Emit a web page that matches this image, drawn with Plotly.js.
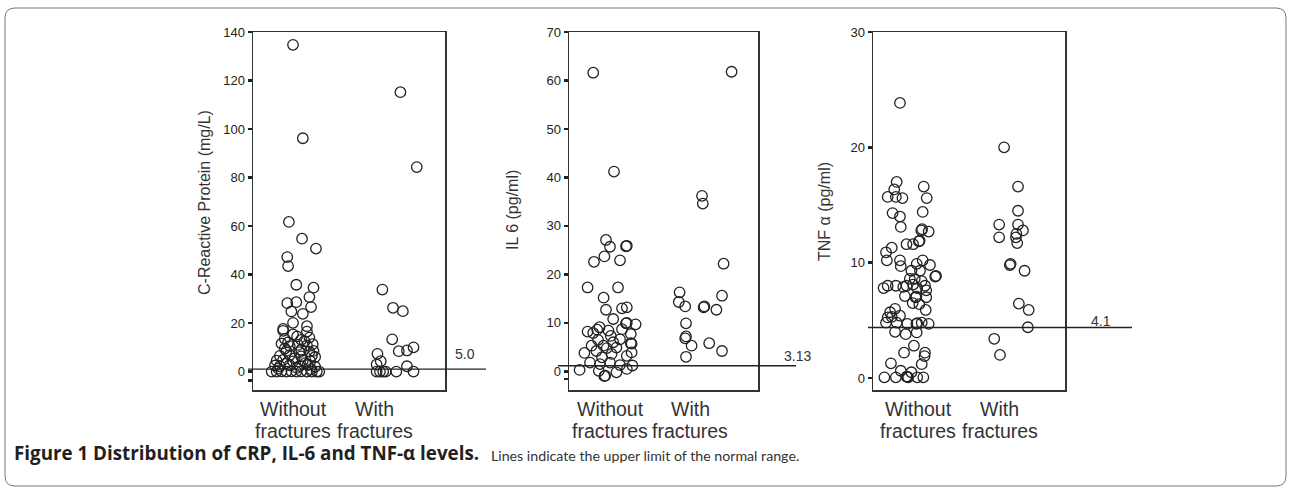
<!DOCTYPE html>
<html>
<head>
<meta charset="utf-8">
<script src="https://cdn.plot.ly/plotly-3.0.1.min.js"></script>
<style>html,body{margin:0;padding:0;background:#fff;}#chart{width:1292px;height:488px;}</style>
</head>
<body>
<div id="chart"></div>
<script>
// ---- data ----
const categoryLine1 = ['Without', 'With'];
const categoryLine2 = ['fractures', 'fractures'];
const categoryPos = [0, 1];

// CRP (mg/L)
const crpWithoutJitter = [0.00,0.12,-0.05,0.11,0.28,-0.07,-0.06,0.04,0.25,0.20,0.22,-0.07,0.04,-0.02,0.12,0.00,0.17,-0.12,0.17,-0.12,0.00,0.10,-0.10,-0.14,-0.04,0.06,0.17,0.24,-0.08,0.10,0.20,-0.16,-0.04,0.10,0.23,0.27,-0.20,-0.12,0.00,0.12,0.21,-0.22,-0.16,-0.04,0.08,0.18,0.27,-0.26,-0.20,-0.14,-0.08,-0.02,0.04,0.10,0.17,0.23,0.29,0.32,0.05,0.14,-0.06,0.20,0.08,-0.10,0.25,0.02,0.15,-0.08,0.05,0.22,-0.18];
const crpWithout = [134.7,96.2,61.7,54.8,50.7,47.2,43.5,35.8,34.6,30.7,26.6,28.2,28.6,24.8,23.8,20.1,18.7,17.6,16.5,16.8,15.3,13.1,13.5,11.5,10.5,11.0,10.8,11.3,8.5,9.0,8.2,6.5,6.8,6.3,6.5,6.0,4.5,4.8,4.2,4.6,4.3,2.5,2.2,2.6,2.3,2.7,2.0,0,0,0.1,0,0.1,0,0.1,0,0,0,0,14.5,12.5,12.0,14.0,8.0,9.5,8.5,5.5,3.5,3.5,1.5,1.0,1.2];
const crpWithJitter = [1.31,1.51,1.09,1.22,1.34,1.21,1.29,1.39,1.47,1.03,1.07,1.02,1.02,1.06,1.10,1.13,1.26,1.39,1.47];
const crpWith = [115.2,84.3,33.8,26.3,24.9,13.3,8.4,8.7,10.0,7.3,4.3,2.9,0,0,0,0,0,2.2,0];
const crpLimitDrawn = 1.0;
const crpLimitLabel = '5.0';

// IL-6 (pg/ml)
const il6WithoutJitter = [-0.21,0.05,-0.05,0.00,0.20,0.21,-0.20,-0.07,0.125,-0.28,0.10,-0.08,-0.05,0.15,0.21,0.04,0.20,0.21,0.32,-0.28,-0.13,-0.21,-0.02,-0.15,0.01,0.125,0.26,0.26,-0.32,-0.17,-0.04,0.08,0.21,0.27,-0.25,-0.38,-0.125,0.00,0.125,0.28,-0.14,-0.07,-0.06,0.08,0.21,-0.23,-0.10,0.02,-0.16,-0.08,0.04,0.15,0.27];
const il6Without = [61.6,41.2,27.1,25.7,25.8,25.9,22.6,23.7,22.9,17.3,17.3,15.2,12.7,13.0,13.2,10.8,9.9,10.0,9.7,8.2,9.1,7.9,8.4,6.5,7.3,6.6,7.7,5.8,3.8,4.2,4.8,4.9,3.2,3.9,1.8,0.3,1.5,1.8,1.3,1.2,0.1,-1.0,-0.9,-0.2,0.5,5.3,2.9,3.6,8.6,5.3,6.0,8.7,5.7];
const il6WithJitter = [1.15,1.16,1.52,1.42,0.87,0.86,0.94,1.17,1.18,1.33,1.40,0.95,0.94,0.95,1.02,1.24,1.40,0.95];
const il6With = [36.2,34.6,61.8,22.2,16.3,14.3,13.4,13.2,13.4,12.7,15.6,9.9,6.8,7.2,5.3,5.8,4.2,3.0];
const il6LimitDrawn = 1.15;
const il6LimitLabel = '3.13';

// TNF-alpha (pg/ml)
const tnfWithoutJitter = [-0.22,-0.26,-0.29,-0.37,-0.27,-0.19,0.07,0.106,-0.31,-0.22,0.057,-0.21,0.04,0.05,0.13,0.01,0.02,-0.14,-0.06,-0.32,-0.39,-0.38,-0.22,-0.21,-0.016,0.057,0.146,-0.08,0.024,0.21,0.22,-0.10,-0.04,0.045,-0.42,-0.37,-0.27,-0.18,-0.14,-0.06,-0.01,0.085,0.10,-0.16,-0.03,-0.02,0.10,-0.065,0.016,-0.28,0.094,-0.34,-0.37,-0.32,-0.22,-0.39,-0.26,-0.13,-0.02,-0.01,0.045,0.13,-0.28,-0.15,-0.016,-0.05,-0.17,0.085,0.08,-0.33,0.045,-0.21,-0.41,-0.27,-0.13,-0.12,-0.14,-0.01,0.065,-0.08];
const tnfWithout = [23.85,17.0,16.35,15.7,15.7,15.6,16.6,15.6,14.3,14.0,14.4,13.1,12.8,12.9,12.7,11.85,11.9,11.6,11.6,11.3,10.9,10.2,10.2,9.7,9.9,10.2,9.8,9.3,9.3,8.8,8.85,8.6,8.6,8.4,7.8,8.0,8.0,7.9,8.0,8.1,7.8,8.0,7.6,7.1,7.0,7.05,7.0,6.5,6.4,6.0,5.9,5.7,5.25,5.3,5.4,4.8,4.8,4.7,4.7,4.75,4.8,4.7,4.0,3.8,3.95,2.8,2.2,2.2,1.9,1.27,1.2,0.63,0.06,0.06,0.1,0.05,0.12,0.06,0.06,0.5];
const tnfWithJitter = [1.05,1.22,1.22,0.99,1.22,0.99,1.28,1.195,1.20,1.21,1.12,1.13,1.30,1.23,1.35,1.34,0.93,1.00];
const tnfWith = [20.0,16.6,14.5,13.3,13.3,12.2,12.8,12.2,12.5,11.7,9.8,9.9,9.3,6.45,5.9,4.4,3.4,2.0];
const tnfLimitDrawn = 4.38;
const tnfLimitLabel = '4.1';

const yTitles = ['C-Reactive Protein (mg/L)', 'IL 6 (pg/ml)', 'TNF \u03b1 (pg/ml)'];
const captionBold = 'Figure 1 Distribution of CRP, IL-6 and TNF-\u03b1 levels.';
const captionText = 'Lines indicate the upper limit of the normal range.';

// ---- drawing ----
const W = 1292, H = 488;
const px = v => v / W;
const py = v => 1 - v / H;

const marker = {symbol: 'circle-open', size: 10.5, color: '#222', line: {width: 1.3, color: '#222'}};
function pts(x, y, xa, ya) {
  return {type: 'scatter', mode: 'markers', x: x, y: y, xaxis: xa, yaxis: ya,
          marker: marker, cliponaxis: false, hoverinfo: 'y', showlegend: false};
}
const traces = [
  pts(crpWithoutJitter, crpWithout, 'x', 'y'), pts(crpWithJitter, crpWith, 'x', 'y'),
  pts(il6WithoutJitter, il6Without, 'x2', 'y2'), pts(il6WithJitter, il6With, 'x2', 'y2'),
  pts(tnfWithoutJitter, tnfWithout, 'x3', 'y3'), pts(tnfWithJitter, tnfWith, 'x3', 'y3')
];

const frame = {showline: true, mirror: true, linecolor: '#333', linewidth: 1.5, zeroline: false, showgrid: false};
const tickFont = {family: 'Liberation Sans, Arial, sans-serif', size: 13, color: '#222'};
const catFont = {family: 'Liberation Sans, Arial, sans-serif', size: 19.5, color: '#333'};
function xax(domain, range, ya) {
  return Object.assign({}, frame, {domain: domain, range: range, anchor: ya, tickmode: 'array', tickvals: categoryPos,
    showticklabels: false, ticks: '', fixedrange: true});
}
function yax(range, vals, texts, xa) {
  return Object.assign({}, frame, {domain: [py(390), py(32)], range: range, anchor: xa, tickmode: 'array', tickvals: vals,
    ticktext: texts, ticks: 'outside', ticklen: 4, tickwidth: 2.5, tickcolor: '#222', tickfont: tickFont, fixedrange: true});
}
const crpTicks = [-3.7, 0, 20, 40, 60, 80, 100, 120, 140];
const il6Ticks = [-1.6, 0, 10, 20, 30, 40, 50, 60, 70];
const tnfTicks = [0, 10, 20, 30];
const lbl = a => a.map(v => (v < 0 ? '' : String(v)));

const lineStyle = {color: '#222', width: 1.3};
const shapes = [
  {type: 'line', xref: 'paper', yref: 'y', x0: px(248), x1: px(486), y0: crpLimitDrawn, y1: crpLimitDrawn, line: lineStyle},
  {type: 'line', xref: 'paper', yref: 'y2', x0: px(558), x1: px(796), y0: il6LimitDrawn, y1: il6LimitDrawn, line: lineStyle},
  {type: 'line', xref: 'paper', yref: 'y3', x0: px(868), x1: px(1132), y0: tnfLimitDrawn, y1: tnfLimitDrawn, line: lineStyle},
  {type: 'path', xref: 'paper', yref: 'paper', line: {color: '#777', width: 1},
   path: `M ${px(5)} ${py(18)} Q ${px(5)} ${py(8)} ${px(15)} ${py(8)} L ${px(1276)} ${py(8)} Q ${px(1286)} ${py(8)} ${px(1286)} ${py(18)} L ${px(1286)} ${py(476)} Q ${px(1286)} ${py(486)} ${px(1276)} ${py(486)} L ${px(15)} ${py(486)} Q ${px(5)} ${py(486)} ${px(5)} ${py(476)} Z`}
];

const titleFont = {family: 'Liberation Sans, Arial, sans-serif', size: 16, color: '#333'};
const limitFont = {family: 'Liberation Sans, Arial, sans-serif', size: 14, color: '#333'};
const mid = {showarrow: false, xanchor: 'center', yanchor: 'middle', xref: 'paper', yref: 'paper'};
const annotations = [
  Object.assign({text: yTitles[0], x: px(205), y: py(203), textangle: -90, font: titleFont}, mid),
  Object.assign({text: yTitles[1], x: px(512), y: py(210), textangle: -90, font: titleFont}, mid),
  Object.assign({text: yTitles[2], x: px(825), y: py(212), textangle: -90, font: titleFont}, mid),
  Object.assign({text: crpLimitLabel, x: px(465), y: py(354), font: limitFont}, mid),
  Object.assign({text: il6LimitLabel, x: px(797), y: py(356), font: limitFont}, mid),
  Object.assign({text: tnfLimitLabel, x: px(1101), y: py(321), font: limitFont}, mid),
  Object.assign({text: '<b>' + captionBold + '</b>', x: px(12), y: py(453), font: {family: 'Open Sans, sans-serif', size: 18.8, color: '#231f20'}}, mid, {xanchor: 'left'}),
  Object.assign({text: captionText, x: px(489), y: py(455), font: {family: 'Lato, sans-serif', size: 14.2, color: '#333'}}, mid, {xanchor: 'left'})
];
['x', 'x2', 'x3'].forEach(function (xa) {
  categoryPos.forEach(function (p, i) {
    annotations.push(Object.assign({}, mid, {text: categoryLine1[i], xref: xa, x: p, y: py(409), font: catFont}));
    annotations.push(Object.assign({}, mid, {text: categoryLine2[i], xref: xa, x: p, y: py(431), font: catFont}));
  });
});

const layout = {
  width: W, height: H, margin: {l: 0, r: 0, t: 0, b: 0},
  paper_bgcolor: '#fff', plot_bgcolor: '#fff', showlegend: false,
  xaxis: xax([px(253), px(445)], [-0.488, 1.854], 'y'),
  xaxis2: xax([px(569), px(758)], [-0.5125, 1.85], 'y2'),
  xaxis3: xax([px(873), px(1065)], [-0.549, 1.793], 'y3'),
  yaxis: yax([-7.6, 140], crpTicks, lbl(crpTicks), 'x'),
  yaxis2: yax([-3.85, 70], il6Ticks, lbl(il6Ticks), 'x2'),
  yaxis3: yax([-1.04, 30], tnfTicks, lbl(tnfTicks), 'x3'),
  shapes: shapes, annotations: annotations
};
Plotly.newPlot('chart', traces, layout, {displayModeBar: false, staticPlot: true});
</script>
</body>
</html>
